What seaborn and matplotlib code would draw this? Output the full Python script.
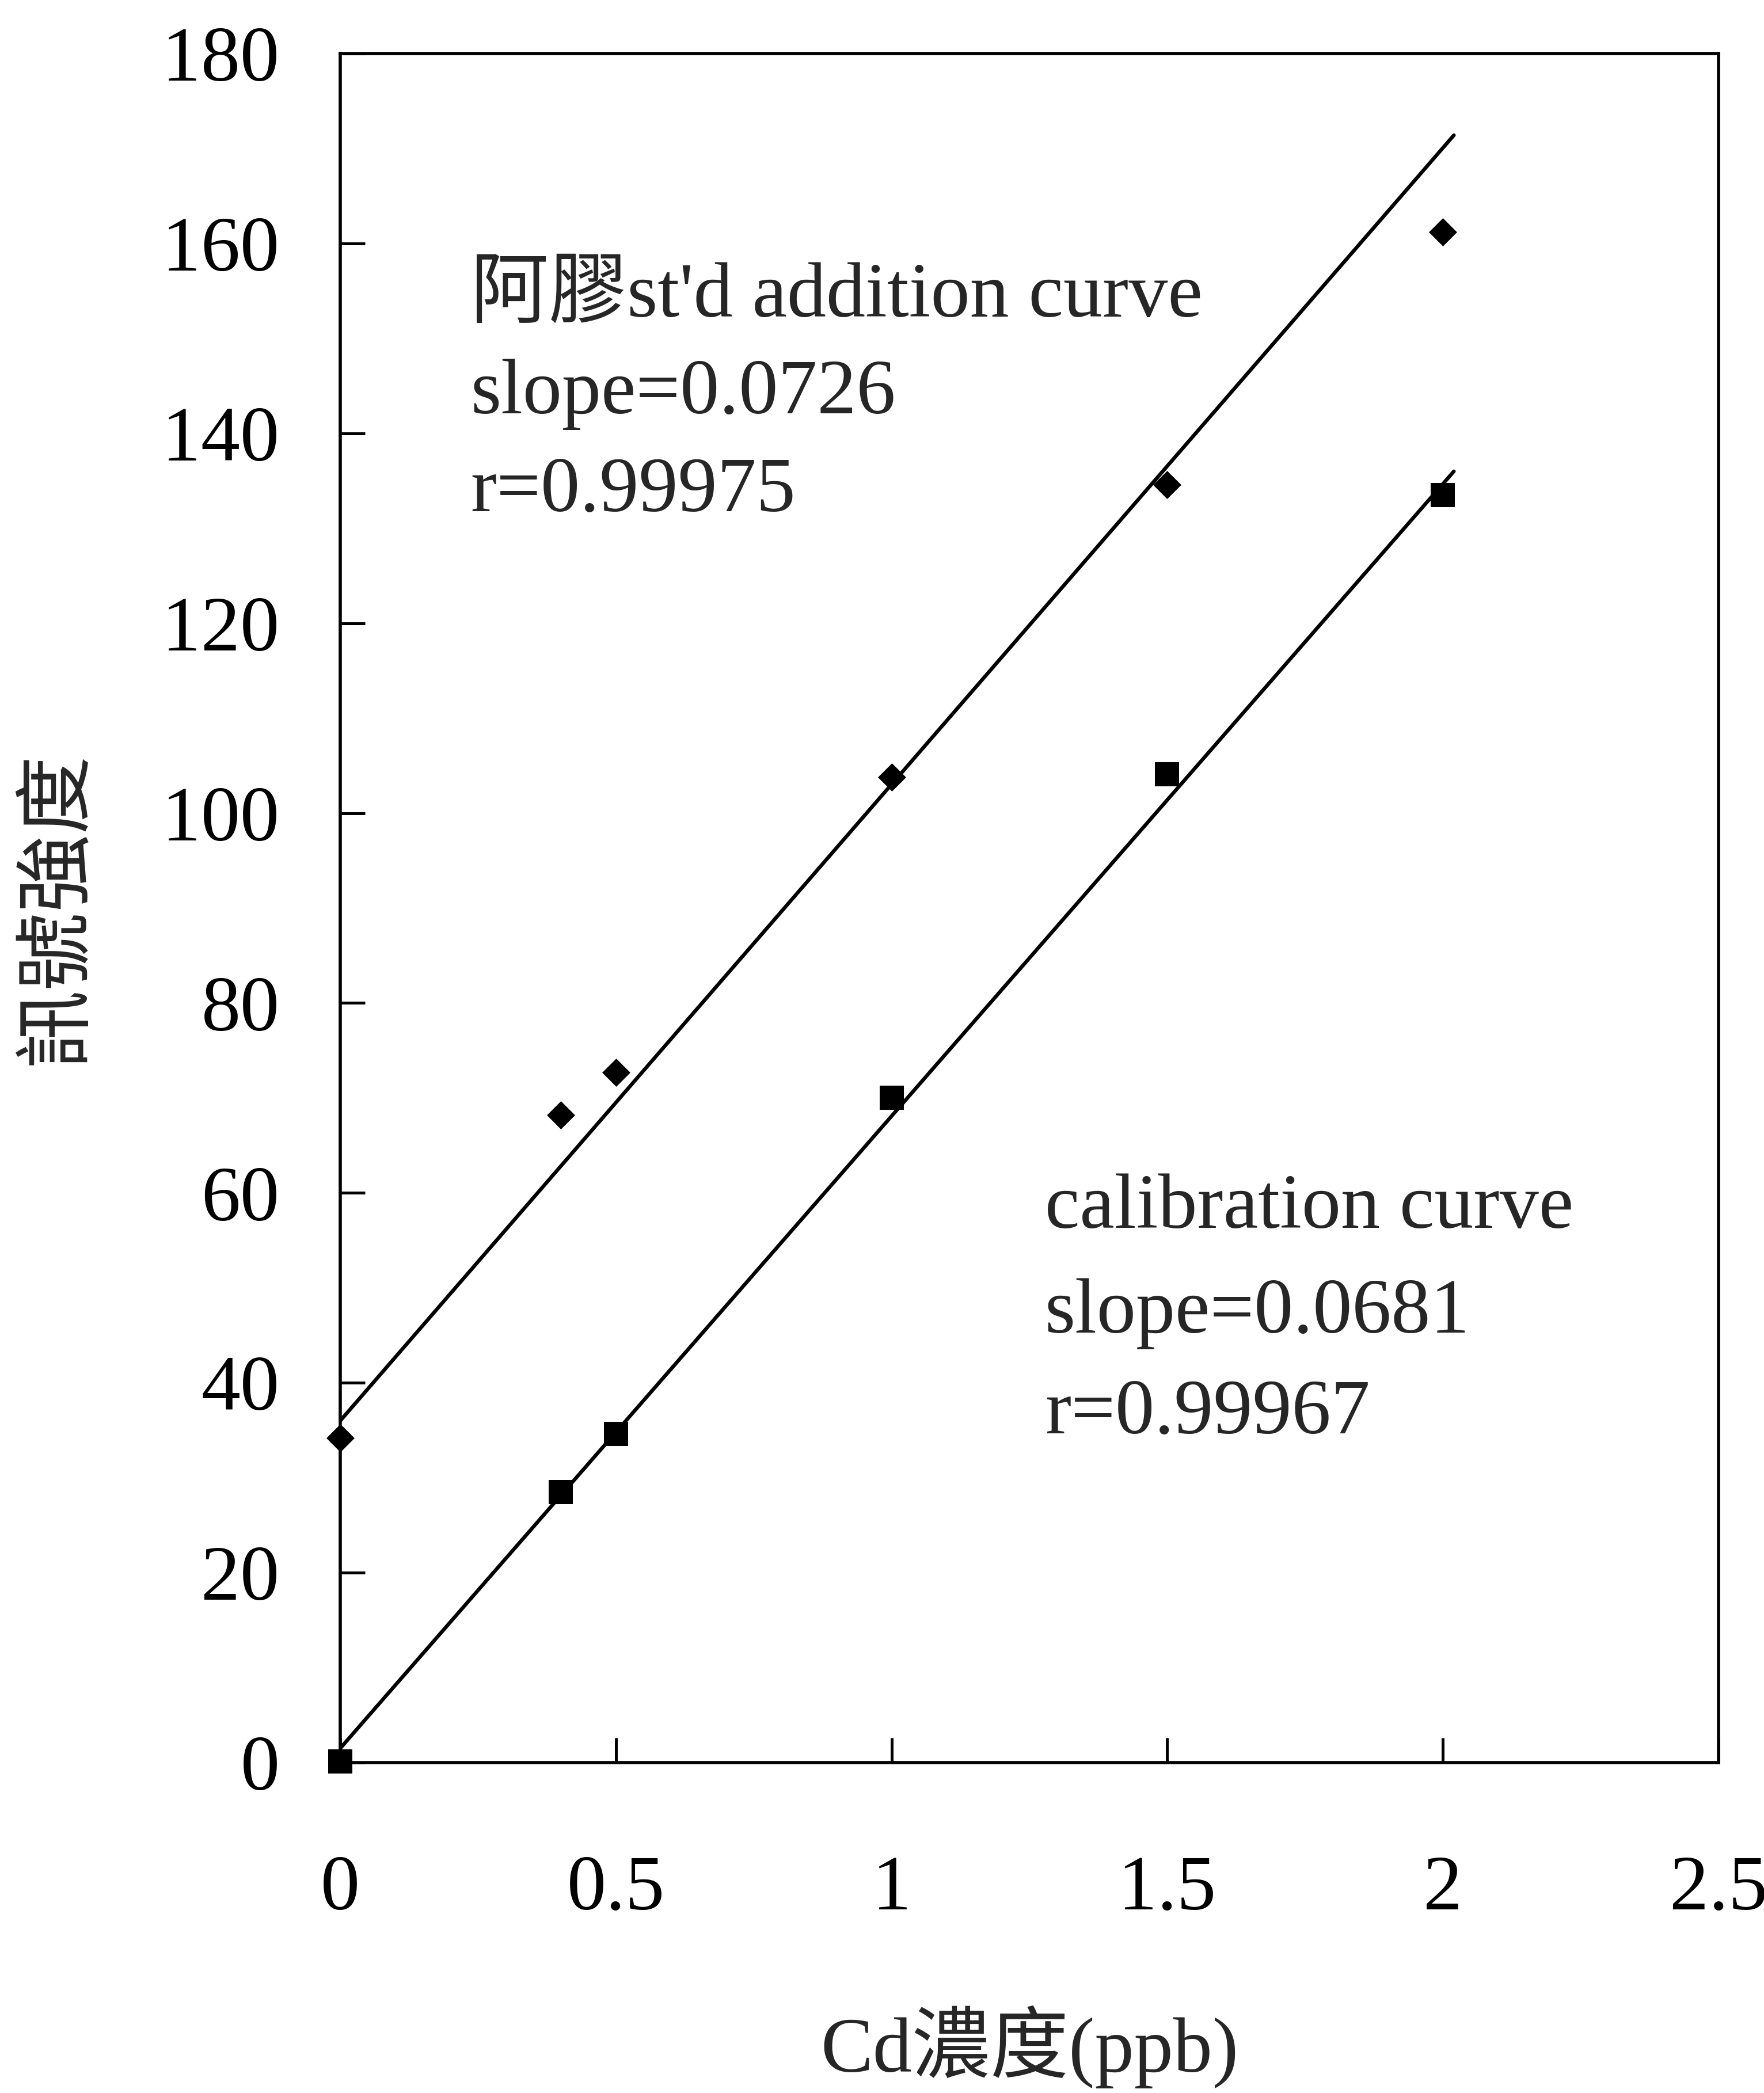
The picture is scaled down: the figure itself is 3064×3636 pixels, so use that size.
import numpy as np
import pandas as pd
import matplotlib
matplotlib.use('Agg')
import matplotlib.pyplot as plt
import seaborn as sns

# 阿膠 標準添加法 數據 (diamond)
add_x = [0, 0.4, 0.5, 1.0, 1.5, 2.0]
add_y = [34.2, 68.2, 72.7, 103.8, 134.6, 161.2]

# 檢量線 數據 (square)
cal_x = [0, 0.4, 0.5, 1.0, 1.5, 2.0]
cal_y = [0.1, 28.5, 34.6, 70.0, 104.1, 133.5]

# 迴歸直線 端點
add_line_x = [0, 2.02]
add_line_y = [36.0, 171.4]
cal_line_x = [0, 2.02]
cal_line_y = [1.5, 136.0]

x_ticks = [0, 0.5, 1, 1.5, 2, 2.5]
x_tick_labels = ['0', '0.5', '1', '1.5', '2', '2.5']
y_ticks = [0, 20, 40, 60, 80, 100, 120, 140, 160, 180]

add_text = ["阿膠st'd addition curve", "slope=0.0726", "r=0.99975"]
cal_text = ["calibration curve", "slope=0.0681", "r=0.99967"]

add_df = pd.DataFrame({'x': add_x, 'y': add_y})
cal_df = pd.DataFrame({'x': cal_x, 'y': cal_y})
add_line = pd.DataFrame({'x': add_line_x, 'y': add_line_y})
cal_line = pd.DataFrame({'x': cal_line_x, 'y': cal_line_y})

sns.set_style('white')
plt.rcParams['font.family'] = ['Liberation Serif', 'Noto Sans CJK TC']
plt.rcParams['axes.unicode_minus'] = False

fs = 98
fig = plt.figure(figsize=(30.64, 36.36), dpi=100)
ax = fig.add_axes([0.1929, 0.1579, 0.7813, 0.8165])

# 迴歸線
sns.lineplot(x='x', y='y', data=add_line, color='black', linewidth=4.6, ax=ax)
sns.lineplot(x='x', y='y', data=cal_line, color='black', linewidth=4.6, ax=ax)

# 數據點
sns.scatterplot(x='x', y='y', data=add_df, marker='D', s=620, color='black',
                linewidth=0, ax=ax, clip_on=False, zorder=5)
sns.scatterplot(x='x', y='y', data=cal_df, marker='s', s=950, color='black',
                linewidth=0, ax=ax, clip_on=False, zorder=5)

ax.set_xlim(0, 2.5)
ax.set_ylim(0, 180)
ax.set_xticks(x_ticks)
ax.set_xticklabels(x_tick_labels)
ax.set_yticks(y_ticks)
ax.tick_params(axis='both', direction='in', length=31, width=3.6, labelsize=fs,
               colors='black', bottom=True, left=True)
ax.tick_params(axis='x', pad=116)
ax.tick_params(axis='y', pad=76)
for sp in ax.spines.values():
    sp.set_linewidth(4.0)
    sp.set_color('black')

ax.set_xlabel('Cd濃度(ppb)', fontsize=fs)
ax.set_ylabel('訊號強度', fontsize=fs)
ax.xaxis.set_label_coords(0.5, -0.142)
ax.yaxis.set_label_coords(-0.178, 0.5)

# 註解文字
for txt, yy in zip(add_text, [152.3, 142.1, 131.8]):
    ax.text(0.236, yy, txt, fontsize=fs, va='baseline', ha='left')
for txt, yy in zip(cal_text, [56.3, 45.3, 34.7]):
    ax.text(1.278, yy, txt, fontsize=fs, va='baseline', ha='left')

plt.savefig('out.png', dpi=100)
